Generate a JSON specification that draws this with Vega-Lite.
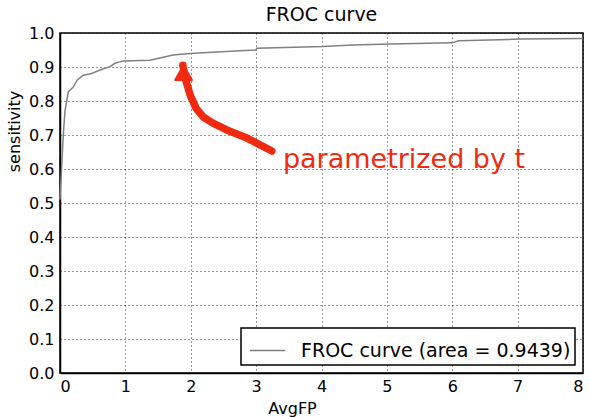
{
  "$schema": "https://vega.github.io/schema/vega-lite/v6.json",
  "width": 523,
  "height": 340,
  "autosize": {"type": "none"},
  "padding": {"left": 60, "top": 33, "right": 6, "bottom": 44},
  "title": {"text": "FROC curve", "fontSize": 19, "font": "DejaVu Sans", "fontWeight": "normal", "color": "#000", "offset": 0},
  "config": {
    "view": {"stroke": "#000", "strokeWidth": 1.5},
    "font": "DejaVu Sans",
    "axis": {
      "labelFont": "DejaVu Sans", "labelFontSize": 16, "labelColor": "#000", "labelOverlap": false,
      "titleFont": "DejaVu Sans", "titleFontSize": 16, "titleFontWeight": "normal", "titleColor": "#000",
      "domainColor": "#000", "domainWidth": 1.5,
      "ticks": false,
      "grid": true, "gridColor": "#000", "gridDash": [1, 3], "gridWidth": 1, "gridOpacity": 0.8
    },
    "legend": {
      "orient": "bottom-right", "offset": 8,
      "strokeColor": "#000", "strokeWidth": 1.5, "fillColor": "#fff", "padding": 4, "cornerRadius": 0,
      "labelFont": "DejaVu Sans", "labelFontSize": 19, "labelColor": "#000", "labelLimit": 400, "labelOffset": 15,
      "symbolType": "stroke", "symbolSize": 1225, "symbolStrokeWidth": 1.5, "symbolOffset": 4,
      "title": null
    }
  },
  "encoding": {
    "x": {"field": "fp", "type": "quantitative", "scale": {"domain": [0, 8], "nice": false},
          "axis": {"title": "AvgFP", "values": [0, 1, 2, 3, 4, 5, 6, 7, 8], "format": "d", "labelPadding": 5, "titlePadding": 6, "titleX": 232}},
    "y": {"field": "sens", "type": "quantitative", "scale": {"domain": [0, 1], "nice": false},
          "axis": {"title": "sensitivity", "values": [0, 0.1, 0.2, 0.3, 0.4, 0.5, 0.6, 0.7, 0.8, 0.9, 1.0], "format": ".1f", "labelPadding": 6, "titlePadding": 6, "titleY": 98}}
  },
  "layer": [
    {
      "data": {"values": [
        {"fp": 0.0, "sens": 0.51, "s": "FROC curve (area = 0.9439)"},
        {"fp": 0.05, "sens": 0.70, "s": "FROC curve (area = 0.9439)"},
        {"fp": 0.076, "sens": 0.77, "s": "FROC curve (area = 0.9439)"},
        {"fp": 0.127, "sens": 0.827, "s": "FROC curve (area = 0.9439)"},
        {"fp": 0.2, "sens": 0.84, "s": "FROC curve (area = 0.9439)"},
        {"fp": 0.265, "sens": 0.862, "s": "FROC curve (area = 0.9439)"},
        {"fp": 0.356, "sens": 0.876, "s": "FROC curve (area = 0.9439)"},
        {"fp": 0.484, "sens": 0.881, "s": "FROC curve (area = 0.9439)"},
        {"fp": 0.612, "sens": 0.891, "s": "FROC curve (area = 0.9439)"},
        {"fp": 0.765, "sens": 0.901, "s": "FROC curve (area = 0.9439)"},
        {"fp": 0.84, "sens": 0.911, "s": "FROC curve (area = 0.9439)"},
        {"fp": 0.917, "sens": 0.915, "s": "FROC curve (area = 0.9439)"},
        {"fp": 0.968, "sens": 0.918, "s": "FROC curve (area = 0.9439)"},
        {"fp": 1.376, "sens": 0.920, "s": "FROC curve (area = 0.9439)"},
        {"fp": 1.73, "sens": 0.935, "s": "FROC curve (area = 0.9439)"},
        {"fp": 1.99, "sens": 0.940, "s": "FROC curve (area = 0.9439)"},
        {"fp": 2.75, "sens": 0.948, "s": "FROC curve (area = 0.9439)"},
        {"fp": 3.0, "sens": 0.950, "s": "FROC curve (area = 0.9439)"},
        {"fp": 3.01, "sens": 0.955, "s": "FROC curve (area = 0.9439)"},
        {"fp": 4.02, "sens": 0.960, "s": "FROC curve (area = 0.9439)"},
        {"fp": 4.48, "sens": 0.965, "s": "FROC curve (area = 0.9439)"},
        {"fp": 5.05, "sens": 0.968, "s": "FROC curve (area = 0.9439)"},
        {"fp": 6.0, "sens": 0.971, "s": "FROC curve (area = 0.9439)"},
        {"fp": 6.1, "sens": 0.977, "s": "FROC curve (area = 0.9439)"},
        {"fp": 7.03, "sens": 0.982, "s": "FROC curve (area = 0.9439)"},
        {"fp": 8.0, "sens": 0.984, "s": "FROC curve (area = 0.9439)"}
      ]},
      "mark": {"type": "line", "strokeWidth": 1.5},
      "encoding": {
        "color": {"field": "s", "type": "nominal", "scale": {"range": ["#808080"]}}
      }
    },
    {
      "data": {"values": [
        {"fp": 3.24, "sens": 0.653, "o": 1},
        {"fp": 3.06, "sens": 0.671, "o": 2},
        {"fp": 2.86, "sens": 0.691, "o": 3},
        {"fp": 2.55, "sens": 0.715, "o": 4},
        {"fp": 2.34, "sens": 0.735, "o": 5},
        {"fp": 2.19, "sens": 0.753, "o": 6},
        {"fp": 2.08, "sens": 0.779, "o": 7},
        {"fp": 1.99, "sens": 0.818, "o": 8},
        {"fp": 1.91, "sens": 0.871, "o": 9},
        {"fp": 1.88, "sens": 0.905, "o": 10}
      ]},
      "mark": {"type": "line", "color": "#f02a10", "strokeWidth": 7.5, "strokeCap": "round", "strokeJoin": "round"},
      "encoding": {
        "order": {"field": "o"}
      }
    },
    {
      "data": {"values": [{"fp": 1.89, "sens": 0.883}]},
      "mark": {"type": "point", "shape": "triangle-up", "filled": true, "color": "#f02a10", "opacity": 1, "size": 280, "strokeWidth": 2, "stroke": "#f02a10", "strokeJoin": "round"},
      "encoding": {}
    },
    {
      "data": {"values": [{"fp": 3.41, "sens": 0.626, "label": "parametrized by t"}]},
      "mark": {"type": "text", "align": "left", "baseline": "middle", "fontSize": 27, "font": "DejaVu Sans", "color": "#f02a10"},
      "encoding": {
        "text": {"field": "label"}
      }
    }
  ]
}
